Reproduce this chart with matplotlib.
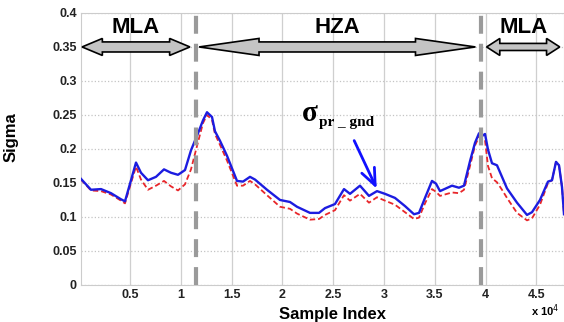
import numpy as np
import matplotlib
matplotlib.use("Agg")
import matplotlib.pyplot as plt
from matplotlib.patches import Polygon
from matplotlib.ticker import FuncFormatter

# data (sample index, sigma)
sample_idx = [177, 1161, 2146, 3130, 4114, 4508, 5099, 5591, 6083, 6772,
              7559, 8347, 9036, 9725, 10414, 11004, 11693, 12185, 12579, 13071,
              13366, 13859, 14548, 15532, 16123, 16812, 17304, 18485, 19765, 20749,
              21438, 22717, 23603, 24194, 25178, 26064, 26654, 27638, 28524, 29312,
              30099, 31083, 32068, 32954, 33446, 34037, 34726, 35119, 35513, 36694,
              37383, 37875, 38466, 38958, 39351, 39646, 39942, 40237, 40631, 41123,
              41615, 42107, 43092, 44076, 44568, 45355, 46143, 46537, 46931, 47226,
              47521, 47718]
sigma_blue = [.156, .140, .141, .135, .126, .123, .154, .180, .165, .154,
              .159, .170, .165, .162, .169, .198, .223, .242, .254, .247,
              .226, .212, .190, .153, .152, .159, .155, .140, .125, .122,
              .115, .106, .106, .113, .119, .141, .134, .146, .131, .138,
              .134, .128, .116, .104, .106, .128, .153, .149, .138, .146,
              .143, .146, .182, .209, .223, .219, .222, .199, .179, .176,
              .159, .142, .121, .103, .107, .125, .152, .154, .181, .176,
              .144, .104]
sigma_red = [.155, .139, .138, .133, .124, .120, .150, .174, .155, .140,
             .146, .153, .145, .139, .148, .170, .210, .238, .250, .243,
             .222, .206, .183, .146, .146, .153, .148, .132, .115, .112,
             .105, .096, .097, .103, .110, .132, .124, .134, .121, .129,
             .124, .118, .107, .097, .099, .120, .141, .137, .131, .136,
             .135, .140, .175, .205, .218, .215, .213, .175, .157, .151,
             .140, .128, .106, .095, .098, .118, .150, .154, .181, .176,
             .144, .104]

# zone boundaries and labels
boundaries = [11500, 39500]
zone_labels = ["MLA", "HZA", "MLA"]
arrow_x0 = [280, 11800, 40100]
arrow_x1 = [10900, 39000, 47300]
head_len = [2000, 5900, 1300]
body_half = [0.0074, 0.0074, 0.0052]

plt.rcParams['font.family'] = ['Liberation Sans', 'DejaVu Sans']

fig = plt.figure(figsize=(5.64, 3.22), dpi=100)
ax = fig.add_axes([0.1436, 0.115, 0.8564, 0.8448])

ax.plot(sample_idx, sigma_red, color='#e8262a', lw=1.3, dashes=(3, 1.6), zorder=3)
ax.plot(sample_idx, sigma_blue, color='#1c1ce0', lw=1.7, zorder=4)

for b in boundaries:
    ax.axvline(b, color='#9a9a9a', lw=3, dashes=(4.3, 2.4), zorder=5)


def double_arrow(x0, x1, yc, bh, hh, hl):
    return [(x0, yc), (x0 + hl, yc + hh), (x0 + hl, yc + bh), (x1 - hl, yc + bh),
            (x1 - hl, yc + hh), (x1, yc), (x1 - hl, yc - hh), (x1 - hl, yc - bh),
            (x0 + hl, yc - bh), (x0 + hl, yc - hh)]


for x0, x1, hl, bh, lab in zip(arrow_x0, arrow_x1, head_len, body_half, zone_labels):
    p = Polygon(double_arrow(x0, x1, 0.35, bh, 0.0125, hl), closed=True,
                facecolor='#c4c4c4', edgecolor='black', lw=1.2, zorder=6)
    ax.add_patch(p)
    ax.text((x0 + x1) / 2, 0.3706, lab, ha='center', va='baseline',
            fontsize=16, fontweight='bold', zorder=7)

# sigma annotation
ax.text(21950, 0.241, "σ", family=['Liberation Serif', 'DejaVu Serif'],
        fontsize=21, fontweight='bold', va='baseline')
ax.text(23600, 0.234, "pr _ gnd", family=['Liberation Serif', 'DejaVu Serif'],
        fontsize=11, fontweight='bold', va='baseline')
ax.annotate('', xy=(29400, 0.138), xytext=(26950, 0.216),
            arrowprops=dict(arrowstyle='->, head_length=0.6, head_width=0.25',
                            color='#1010ff', lw=2, mutation_scale=20), zorder=8)

ax.set_xlim(177, 47718)
ax.set_ylim(0, 0.4)
ax.set_xticks([5000, 10000, 15000, 20000, 25000, 30000, 35000, 40000, 45000])
ax.set_yticks(np.arange(0, 0.41, 0.05))
ax.xaxis.set_major_formatter(FuncFormatter(lambda v, p: f"{v / 1e4:g}"))
ax.yaxis.set_major_formatter(FuncFormatter(lambda v, p: f"{v:.2f}".rstrip('0').rstrip('.') if v else "0"))
ax.tick_params(length=0, labelsize=9, pad=3, colors='#222222')
for lbl in ax.get_xticklabels() + ax.get_yticklabels():
    lbl.set_fontweight('bold')

ax.grid(True, axis='x', color='#cfcfcf', lw=0.9, ls='-')
ax.grid(True, axis='y', color='#c4c4c4', lw=0.9, ls=':')
ax.set_axisbelow(True)
for s in ax.spines.values():
    s.set_color('#cccccc')
    s.set_linewidth(0.8)

ax.set_xlabel("Sample Index", fontsize=12, fontweight='bold')
ax.set_ylabel("Sigma", fontsize=12, fontweight='bold')
ax.xaxis.set_label_coords(0.52, -0.081)
ax.yaxis.set_label_coords(-0.13, 0.544)
ax.text(0.99, -0.065, r"x 10$^{4}$", transform=ax.transAxes, ha='right', va='top',
        fontsize=8, fontweight='bold')

fig.savefig("out.png", dpi=100)
